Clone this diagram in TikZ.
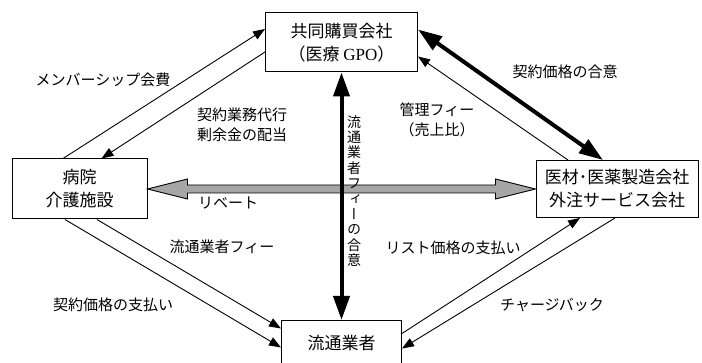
\documentclass[tikz,border=0pt]{standalone}
\usepackage{fontspec}
\setmainfont{Liberation Serif}
\newfontfamily\cjk{Noto Sans CJK JP}
\newfontfamily\cjkv[RawFeature=+vert]{Noto Sans CJK JP}
\usetikzlibrary{arrows.meta,calc}
\begin{document}
\begin{tikzpicture}[x=1pt,y=-1pt,
  box/.style={draw, line width=1pt, fill=white, align=center, inner sep=0pt,
    font=\cjk\fontsize{17}{23}\selectfont},
  lbl/.style={align=center, inner sep=0pt, font=\cjk\fontsize{15}{20}\selectfont},
  thinarr/.style={line width=0.9pt, -{Triangle[length=12pt,width=9pt]}},
  thickarr/.style={line width=4pt, {Triangle[length=24pt,width=16pt]}-{Triangle[length=24pt,width=16pt]}},
  greyarr/.style={fill=black!35, draw=black, line width=0.9pt, line join=miter}
]
\clip (0,0) rectangle (702,363);
\fill[white] (0,0) rectangle (702,363);

% nodes
\node[box, minimum width=152pt, minimum height=59pt] (gpo) at (341.5,42.5)
  {共同購買会社\\（医療 {\rmfamily GPO}）};
\node[box, minimum width=135pt, minimum height=60pt] (hosp) at (79.5,189)
  {病院\\介護施設};
\node[box, minimum width=162pt, minimum height=57pt] (mfr) at (617,189)
  {医材･医薬製造会社\\外注サービス会社};
\node[box, minimum width=120pt, minimum height=46pt, anchor=north] (dist) at (341.5,320)
  {流通業者};

% grey double arrow (rebate)
\filldraw[greyarr]
 (hosp.east) -- ($(hosp.east)+(40,-10)$) -- ($(hosp.east)+(40,-4)$)
 -- ($(mfr.west)+(-40,-4)$) -- ($(mfr.west)+(-40,-10)$) -- (mfr.west)
 -- ($(mfr.west)+(-40,10)$) -- ($(mfr.west)+(-40,4)$)
 -- ($(hosp.east)+(40,4)$) -- ($(hosp.east)+(40,10)$) -- cycle;

% vertical thick arrow
\draw[thickarr] (gpo.south) -- (dist.north);

% hospital <-> GPO
\draw[thinarr] ([xshift=-16.5pt]hosp.north) -- ([yshift=13.5pt]gpo.west);
\draw[thinarr] ([yshift=-9.5pt]gpo.west) -- ([xshift=22pt]hosp.north);

% GPO <-> manufacturer
\draw[thickarr] ([yshift=13pt]gpo.east) -- ([xshift=-14pt]mfr.north);
\draw[thinarr] ([xshift=-49pt]mfr.north) -- ([yshift=-14pt]gpo.east);

% hospital -> distributor
\draw[thinarr] ([xshift=-14.5pt]hosp.south) -- ([yshift=-4pt]dist.west);
\draw[thinarr] ([xshift=17.5pt]hosp.south) -- ([yshift=15pt]dist.west);

% distributor <-> manufacturer
\draw[thinarr] ([yshift=10pt]dist.east) -- ([xshift=-37pt]mfr.south);
\draw[thinarr] ([xshift=-2pt]mfr.south) -- ([yshift=-5pt]dist.east);

% labels
\node[lbl] (l1) at (103,80) {メンバーシップ会費};
\node[lbl] (l2) at (242,125) {契約業務代行\\剰余金の配当};
\node[lbl] (l3) at (565,72) {契約価格の合意};
\node[lbl] (l4) at (437,120) {管理フィー\\（売上比）};
\node[lbl] (l5) at (228,203) {リベート};
\node[lbl] (l6) at (222,247) {流通業者フィー};
\node[lbl] (l7) at (113,305) {契約価格の支払い};
\node[lbl] (l8) at (453,248) {リスト価格の支払い};
\node[lbl] (l9) at (552,305) {チャージバック};
\node[align=center, inner sep=0pt, font=\cjkv\fontsize{14}{15.4}\selectfont] (l10) at (354,191)
  {流\\通\\業\\者\\フ\\ィ\\ー\\の\\合\\意};
\end{tikzpicture}
\end{document}
